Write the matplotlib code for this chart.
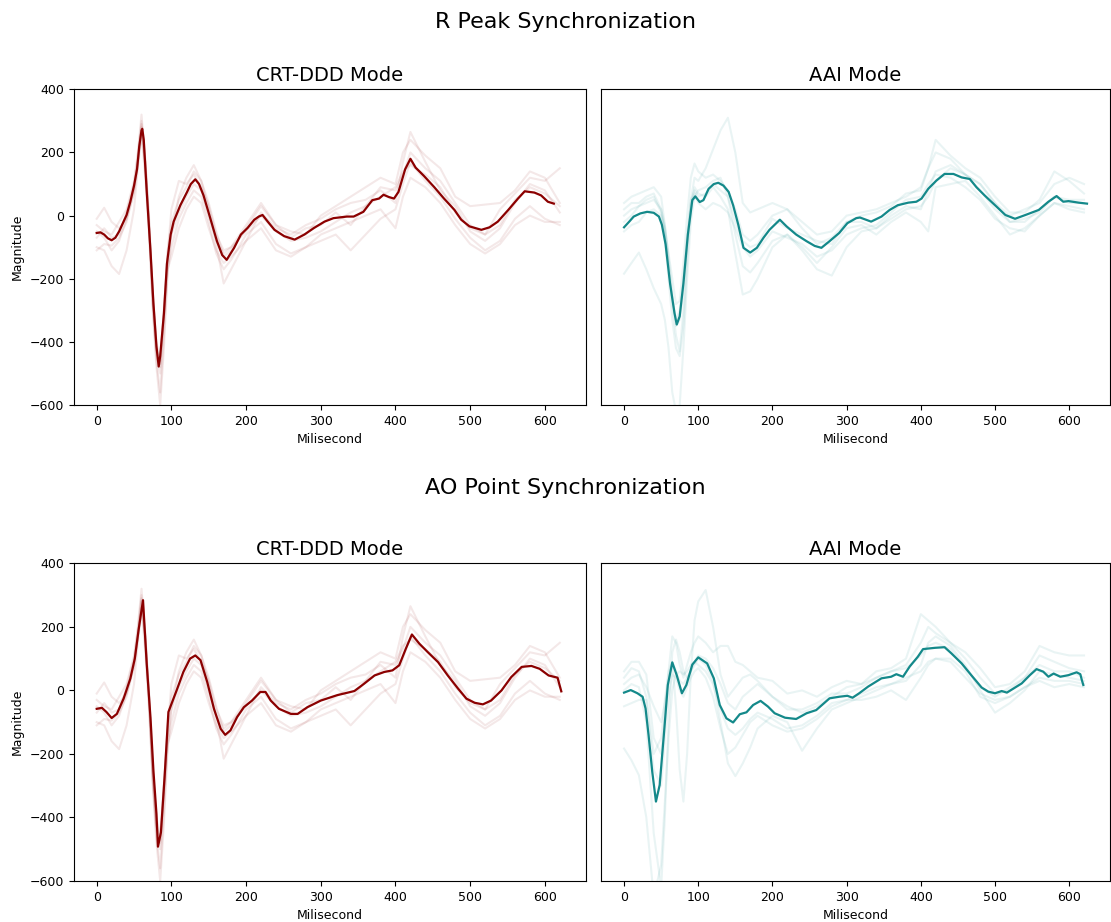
import matplotlib
matplotlib.use("Agg")
import matplotlib.pyplot as plt
import numpy as np

# sample times (ms) used for the individual beats
ms = [0, 10, 20, 30, 40,
      50, 55, 60, 65, 70, 75, 80, 85, 90, 95, 100,
      110, 120, 130, 140, 150, 160, 170, 180,
      200, 220, 240, 260, 280, 300, 320, 340, 360, 380, 400,
      410, 420,
      440, 460, 480, 500, 520, 540, 560, 580, 600, 620]

# ---- CRT-DDD mode, single beats (same for both sync methods) ----
crt_beat_a = [-10, 25, -20, -40, -10,
              70, 160, 290, 180, 0, -240, -420, -480, -320, -120, 20,
              110, 100, 130, 90, 30, -60, -110, -100,
              -30, 40, -30, -50, -60, 0, 30, 60, 90, 120, 100,
              200, 240,
              190, 150, 60, 30, 35, 40, 80, 140, 120, 40]
crt_beat_b = [-100, -110, -160, -185, -110,
              20, 150, 250, 170, -10, -280, -460, -560, -380, -170, -100,
              -10, 40, 80, 60, -20, -120, -170, -140,
              -60, -20, -90, -120, -100, -80, -60, -110, -60, -10, 20,
              100, 170,
              110, 60, -10, -70, -110, -80, -10, 30, -10, -30]
crt_beat_c = [-30, -50, -60, -20, 20,
              110, 200, 320, 180, -40, -300, -480, -600, -420, -180, -60,
              60, 120, 160, 110, 20, -90, -215, -170,
              -80, 10, -40, -60, -30, -10, 20, 40, 50, 80, 40,
              170, 265,
              170, 80, 30, -50, -80, -40, 40, 100, 80, 10]
crt_beat_d = [-110, -90, -95, -70, -20,
              80, 170, 260, 120, -60, -280, -440, -500, -320, -170, -130,
              -40, 20, 60, 40, -40, -110, -150, -130,
              -80, -40, -110, -130, -100, -60, -40, -20, 0, 20, -40,
              60, 120,
              90, 40, -30, -90, -120, -90, -30, 0, -20, -20]
crt_beat_e = [-70, -40, -70, -60, 10,
              100, 190, 300, 170, -20, -260, -430, -470, -300, -110, -20,
              50, 90, 140, 110, 40, -50, -130, -110,
              -40, 30, -30, -70, -40, -30, 10, -30, 30, 90, 80,
              130, 200,
              150, 110, 40, -30, -60, 20, 70, 120, 110, 150]
crt_beat_f = [-50, -70, -110, -80, -10,
              90, 170, 280, 150, -30, -250, -400, -460, -290, -140, -60,
              10, 60, 100, 80, 0, -80, -120, -100,
              -50, 0, -50, -80, -70, -50, -20, 10, 30, 60, 90,
              140, 160,
              130, 90, 10, -40, -60, -30, 50, 90, 70, 30]

# ---- AAI mode, single beats, R peak sync ----
aai_r_beat_a = [-184, -150, -117, -170, -230,
                -280, -330, -420, -560, -620, -600, -420, -200, -20, 60, 80,
                90, 110, 120, 60, -60, -160, -180, -150,
                -80, -60, -100, -150, -100, -40, -30, -60, -20, 10, -20,
                -50, 90,
                100, 110, 60, 0, -60, -40, 0, 40, 30, 20]
aai_r_beat_b = [40, 60, 70, 80, 90,
                60, -30, -150, -280, -380, -430, -300, -100, 50, 120, 110,
                150, 210, 270, 310, 200, 40, 10, 20,
                40, 20, -20, -60, -50, 0, 10, 20, 40, 60, 90,
                150, 200,
                180, 130, 100, 40, 0, 20, 40, 100, 120, 100]
aai_r_beat_c = [-20, 0, 30, 50, 60,
                10, -70, -200, -330, -420, -445, -350, -150, 20, 90, 70,
                60, 90, 60, 20, -120, -250, -240, -200,
                -100, -60, -110, -170, -190, -100, -50, -40, -10, 20, 30,
                60, 110,
                150, 130, 80, 20, -20, -10, 10, 60, 40, 40]
aai_r_beat_d = [-50, -30, -20, 10, 20,
                0, -40, -120, -200, -280, -270, -150, 0, 120, 165, 140,
                120, 130, 110, 80, 20, -60, -80, -60,
                0, 20, -40, -90, -70, -20, 0, 10, 30, 70, 80,
                150, 240,
                190, 150, 120, 60, 10, 10, 50, 140, 110, 70]
aai_r_beat_e = [20, 40, 40, 60, 70,
                20, -50, -160, -260, -330, -300, -200, -60, 40, 70, 40,
                20, 40, 30, 10, -40, -100, -130, -110,
                -50, -70, -90, -130, -110, -60, -40, -30, 10, 50, 60,
                100, 130,
                120, 90, 50, -10, -40, -50, 0, 40, 20, 10]
aai_r_beat_f = [0, 20, 30, 40, 50,
                20, -30, -130, -250, -350, -330, -230, -90, 50, 80, 60,
                70, 100, 80, 60, -20, -80, -100, -90,
                -10, -40, -60, -80, -90, -20, -20, -40, 0, 30, 20,
                80, 140,
                160, 130, 100, 40, -20, -20, 20, 60, 50, 50]

# ---- AAI mode, single beats, AO point sync ----
aai_ao_beat_a = [-183, -220, -267, -400, -650,
                 -550, -350, -150, 0, 50, 60, 50, 60, 80, 90, 80,
                 60, 20, -60, -120, -140, -120, -90, -70,
                 -90, -120, -110, -80, -40, -30, -10, 10, 20, 40, 60,
                 90, 100,
                 100, 60, -20, -40, -20, 10, 40, 30, 30, 20]
aai_ao_beat_b = [40, 70, 60, -20, -200,
                 -150, -30, 60, 90, -50, -250, -350, -200, 50, 220, 280,
                 316, 200, 50, -20, 10, 40, 50, 30,
                 -20, -60, -60, -40, -10, -10, 10, 40, 60, 80, 150,
                 200, 180,
                 150, 100, 40, -10, 0, 40, 110, 90, 70, 60]
aai_ao_beat_c = [0, 20, 10, -100, -450,
                 -620, -400, -100, 120, 160, 120, 60, 40, 60, 80, 100,
                 80, 30, -100, -230, -270, -230, -180, -120,
                 -80, -100, -190, -120, -60, -40, -20, 0, 20, 30, 80,
                 150, 170,
                 140, 80, 0, -70, -40, 0, 60, 50, 40, 30]
aai_ao_beat_d = [60, 90, 90, 50, -150,
                 -200, -80, 60, 170, 150, 80, 40, 80, 120, 150, 170,
                 150, 120, 140, 140, 90, 80, 60, 40,
                 30, -10, 0, -20, 10, 30, 20, 60, 70, 100, 240,
                 220, 200,
                 150, 120, 70, 10, 20, 60, 140, 120, 110, 110]
aai_ao_beat_e = [-50, -40, -30, -30, -250,
                 -300, -150, -20, 50, 40, 0, -20, 10, 40, 60, 70,
                 40, -20, -120, -200, -180, -140, -100, -80,
                 -110, -130, -120, -90, -50, -30, -30, -20, 0, -30, 40,
                 80, 100,
                 90, 40, -10, -30, -20, 10, 30, 10, 20, 10]
aai_ao_beat_f = [20, 40, 50, 10, -50,
                 -100, -40, 30, 90, 60, 30, 20, 40, 60, 90, 110,
                 100, 70, 20, -40, -60, -20, 0, 20,
                 -20, -50, -70, -50, -20, 10, 20, 40, 60, 70, 110,
                 140, 150,
                 130, 70, 10, -20, 10, 40, 80, 60, 60, 40]

# ---- averaged beats ----
crt_r_mean_t = [0, 5, 10, 15, 20, 25, 30, 35, 40, 45, 50, 54, 57, 60, 61, 63, 67, 72, 76, 80,
                83, 85, 90, 94, 99, 103, 112, 121, 126, 132, 137, 143, 152, 161, 168, 174, 184,
                193, 202, 211, 217, 222, 229, 238, 251, 265, 278, 291, 305, 317, 335, 344, 357,
                369, 378, 384, 391, 398, 404, 413, 420, 427, 438, 452, 465, 479, 488, 499, 515,
                526, 537, 551, 564, 573, 586, 595, 604, 612]
crt_r_mean = [-55, -53, -60, -72, -78, -70, -50, -24, 2, 44, 95, 147, 220, 270, 275, 240, 75,
              -112, -280, -414, -478, -445, -310, -153, -60, -19, 33, 75, 100, 115, 100, 64, -8,
              -81, -125, -140, -102, -60, -39, -13, -3, 2, -19, -45, -65, -76, -60, -39, -19, -8,
              -3, -3, 12, 49, 54, 66, 59, 54, 75, 147, 180, 152, 126, 90, 54, 18, -13, -34, -45,
              -37, -19, 18, 54, 77, 73, 64, 44, 38]

crt_ao_mean_t = [0, 7, 13, 20, 27, 36, 45, 51, 56, 62, 67, 72, 76, 80, 82, 86, 91, 96, 101, 107,
                 116, 125, 132, 139, 148, 157, 166, 172, 179, 188, 197, 208, 219, 226, 233, 244,
                 260, 269, 282, 300, 322, 345, 358, 372, 385, 396, 405, 414, 422, 432, 443, 457,
                 470, 484, 495, 506, 517, 528, 542, 555, 569, 582, 593, 605, 617, 622]
crt_ao_mean = [-58, -55, -68, -87, -74, -26, 37, 100, 189, 284, 82, -86, -255, -389, -492, -447,
               -268, -68, -37, 0, 58, 100, 110, 95, 26, -58, -121, -140, -126, -84, -53, -32, -5,
               -5, -32, -58, -74, -74, -53, -32, -15, -2, 21, 47, 58, 63, 79, 132, 176, 147, 121,
               89, 47, 5, -26, -39, -44, -32, 0, 42, 74, 77, 68, 47, 40, -3]

aai_r_mean_t = [0, 7, 13, 22, 31, 40, 47, 51, 56, 62, 68, 71, 75, 80, 86, 92, 96, 102, 107, 114,
                121, 127, 134, 141, 147, 154, 161, 170, 179, 188, 196, 203, 210, 219, 232, 246,
                257, 266, 277, 290, 301, 313, 318, 333, 347, 358, 369, 383, 394, 401, 410, 421,
                432, 444, 455, 466, 475, 486, 500, 514, 527, 541, 559, 572, 583, 592, 599, 613, 624]
aai_r_mean = [-37, -19, -3, 7, 12, 9, -3, -29, -91, -215, -309, -345, -319, -215, -60, 49, 61, 43,
              49, 85, 100, 104, 95, 75, 33, -29, -102, -117, -102, -70, -45, -29, -13, -34, -60,
              -81, -96, -102, -81, -55, -24, -8, -6, -19, -3, 18, 33, 41, 44, 54, 85, 111, 132,
              132, 121, 116, 90, 64, 33, 2, -10, 2, 18, 44, 62, 44, 46, 41, 38]

aai_ao_mean_t = [0, 9, 18, 25, 29, 33, 38, 43, 48, 54, 59, 65, 71, 78, 84, 92, 100, 112, 121, 129,
                 138, 147, 156, 165, 174, 184, 194, 203, 217, 232, 246, 259, 277, 290, 301, 308,
                 317, 329, 347, 360, 367, 376, 385, 396, 403, 419, 432, 441, 455, 468, 482, 491,
                 500, 509, 516, 525, 536, 547, 556, 565, 572, 579, 588, 599, 610, 615, 617, 619]
aai_ao_mean = [-7, 1, -9, -20, -57, -140, -256, -350, -298, -130, 17, 88, 48, -9, 17, 81, 104, 85,
               38, -46, -88, -101, -75, -69, -46, -33, -51, -72, -86, -90, -72, -62, -25, -20,
               -17, -23, -9, 12, 38, 43, 51, 43, 75, 106, 130, 134, 136, 117, 85, 48, 9, -4, -9,
               -2, -7, 6, 22, 48, 67, 59, 43, 53, 43, 48, 57, 51, 33, 17]

crt_beats = [crt_beat_a, crt_beat_b, crt_beat_c, crt_beat_d, crt_beat_e, crt_beat_f]
aai_r_beats = [aai_r_beat_a, aai_r_beat_b, aai_r_beat_c, aai_r_beat_d, aai_r_beat_e, aai_r_beat_f]
aai_ao_beats = [aai_ao_beat_a, aai_ao_beat_b, aai_ao_beat_c, aai_ao_beat_d, aai_ao_beat_e, aai_ao_beat_f]

red = "#8b0000"
teal = "#14898a"

fig = plt.figure(figsize=(11.11, 9.22), dpi=100)

ax_tl = fig.add_axes([0.0662, 0.5607, 0.4612, 0.3424])
ax_tr = fig.add_axes([0.5410, 0.5607, 0.4581, 0.3424], sharey=ax_tl)
ax_bl = fig.add_axes([0.0662, 0.0445, 0.4612, 0.3445])
ax_br = fig.add_axes([0.5410, 0.0445, 0.4581, 0.3445], sharey=ax_bl)

panels = [
    (ax_tl, crt_beats, crt_r_mean_t, crt_r_mean, red, "CRT-DDD Mode"),
    (ax_tr, aai_r_beats, aai_r_mean_t, aai_r_mean, teal, "AAI Mode"),
    (ax_bl, crt_beats, crt_ao_mean_t, crt_ao_mean, red, "CRT-DDD Mode"),
    (ax_br, aai_ao_beats, aai_ao_mean_t, aai_ao_mean, teal, "AAI Mode"),
]

for ax, beats, mt, mv, col, title in panels:
    for b in beats:
        ax.plot(ms, b, color=col, alpha=0.09, lw=1.5)   # single beats, faint
    ax.plot(mt, mv, color=col, lw=1.6)                  # averaged beat
    ax.set_title(title, fontsize=14)
    ax.set_xlabel("Milisecond", fontsize=9)
    ax.set_ylim(-600, 400)
    ax.set_xlim(-31, 655)
    ax.set_xticks(np.arange(0, 700, 100))
    ax.tick_params(labelsize=9)

for ax in (ax_tl, ax_bl):
    ax.set_ylabel("Magnitude", fontsize=9)
    ax.set_yticks(np.arange(-600, 600, 200))
for ax in (ax_tr, ax_br):
    ax.tick_params(left=False, labelleft=False)

fig.text(0.509, 1 - 22 / 922, "R Peak Synchronization", ha="center", va="center", fontsize=16)
fig.text(0.509, 1 - 488 / 922, "AO Point Synchronization", ha="center", va="center", fontsize=16)

plt.savefig("out.png", dpi=100)
